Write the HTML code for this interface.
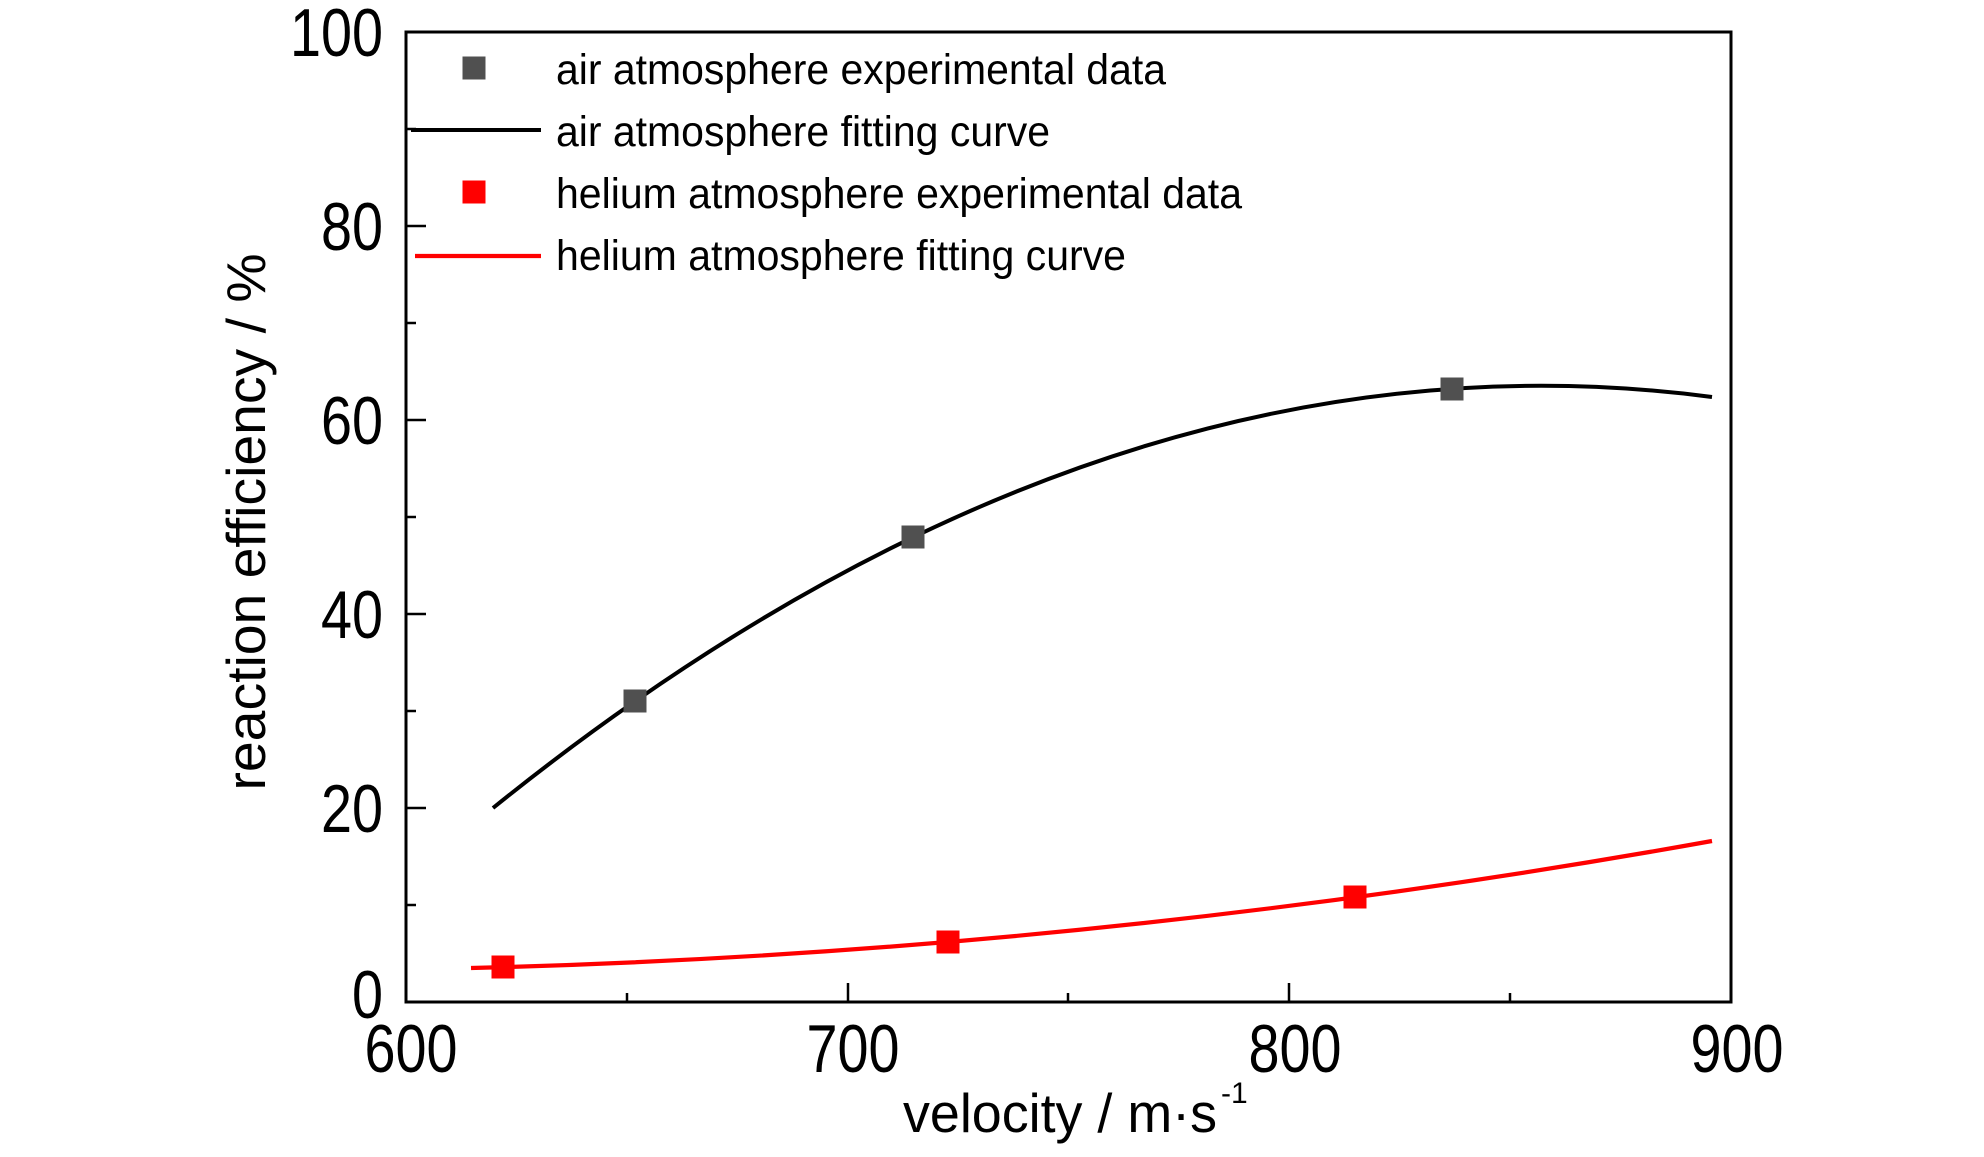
<!DOCTYPE html>
<html>
<head>
<meta charset="utf-8">
<style>
html,body{margin:0;padding:0;background:#ffffff;}
svg{display:block;}
text{font-family:"Liberation Sans", Arial, sans-serif; fill:#000;}
</style>
</head>
<body>
<svg width="1984" height="1157" viewBox="0 0 1984 1157" xmlns="http://www.w3.org/2000/svg">
  <rect x="0" y="0" width="1984" height="1157" fill="#ffffff"/>

  <!-- Axis frame -->
  <rect x="406" y="32" width="1325" height="970" fill="none" stroke="#000" stroke-width="3"/>

  <!-- Y ticks (inward) -->
  <g stroke="#000" stroke-width="2.5">
    <line x1="406" y1="1002" x2="426" y2="1002"/>
    <line x1="406" y1="905" x2="416" y2="905"/>
    <line x1="406" y1="808" x2="426" y2="808"/>
    <line x1="406" y1="711" x2="416" y2="711"/>
    <line x1="406" y1="614" x2="426" y2="614"/>
    <line x1="406" y1="517" x2="416" y2="517"/>
    <line x1="406" y1="420" x2="426" y2="420"/>
    <line x1="406" y1="323" x2="416" y2="323"/>
    <line x1="406" y1="226" x2="426" y2="226"/>
    <line x1="406" y1="129" x2="416" y2="129"/>
  </g>
  <!-- X ticks (inward) -->
  <g stroke="#000" stroke-width="2.5">
    <line x1="627" y1="1002" x2="627" y2="993"/>
    <line x1="848" y1="1002" x2="848" y2="983"/>
    <line x1="1068" y1="1002" x2="1068" y2="993"/>
    <line x1="1289" y1="1002" x2="1289" y2="983"/>
    <line x1="1510" y1="1002" x2="1510" y2="993"/>
  </g>

  <!-- Y tick labels -->
  <g font-size="68">
    <g transform="translate(383,56) scale(0.82,1)"><text text-anchor="end">100</text></g>
    <g transform="translate(383,250) scale(0.82,1)"><text text-anchor="end">80</text></g>
    <g transform="translate(383,444) scale(0.82,1)"><text text-anchor="end">60</text></g>
    <g transform="translate(383,638) scale(0.82,1)"><text text-anchor="end">40</text></g>
    <g transform="translate(383,832) scale(0.82,1)"><text text-anchor="end">20</text></g>
    <g transform="translate(383,1018) scale(0.82,1)"><text text-anchor="end">0</text></g>
  </g>

  <!-- X tick labels -->
  <g font-size="68">
    <g transform="translate(411,1072) scale(0.82,1)"><text text-anchor="middle">600</text></g>
    <g transform="translate(853,1072) scale(0.82,1)"><text text-anchor="middle">700</text></g>
    <g transform="translate(1295,1072) scale(0.82,1)"><text text-anchor="middle">800</text></g>
    <g transform="translate(1737,1072) scale(0.82,1)"><text text-anchor="middle">900</text></g>
  </g>

  <!-- Axis titles -->
  <text x="903" y="1132" font-size="55" textLength="314" lengthAdjust="spacingAndGlyphs">velocity / m·s</text>
  <text x="1221" y="1103" font-size="30">-1</text>

  <text transform="translate(265,522) rotate(-90)" text-anchor="middle" font-size="55" textLength="537" lengthAdjust="spacingAndGlyphs">reaction efficiency / %</text>

  <!-- Curves -->
  <path d="M493,808 Q1102,317 1712,397" fill="none" stroke="#000" stroke-width="4"/>
  <path d="M471,968 Q1091,952.7 1712,841" fill="none" stroke="#ff0000" stroke-width="4.2"/>

  <!-- Air markers -->
  <g fill="#505050">
    <rect x="623.5" y="689.5" width="23" height="23"/>
    <rect x="901.5" y="525.5" width="23" height="23"/>
    <rect x="1440.5" y="377.5" width="23" height="23"/>
  </g>
  <!-- Helium markers -->
  <g fill="#ff0000">
    <rect x="491.5" y="955.5" width="23" height="23"/>
    <rect x="936.5" y="930.5" width="23" height="23"/>
    <rect x="1343.5" y="885.5" width="23" height="23"/>
  </g>

  <!-- Legend -->
  <rect x="462.5" y="56.5" width="23" height="23" fill="#505050"/>
  <line x1="411" y1="130" x2="541" y2="130" stroke="#000" stroke-width="4"/>
  <rect x="462.5" y="180.5" width="23" height="23" fill="#ff0000"/>
  <line x1="415" y1="256" x2="541" y2="256" stroke="#ff0000" stroke-width="4.2"/>

  <g font-size="43">
    <text x="556" y="84" textLength="610" lengthAdjust="spacingAndGlyphs">air atmosphere experimental data</text>
    <text x="556" y="146" textLength="494" lengthAdjust="spacingAndGlyphs">air atmosphere fitting curve</text>
    <text x="556" y="208" textLength="686" lengthAdjust="spacingAndGlyphs">helium atmosphere experimental data</text>
    <text x="556" y="270" textLength="570" lengthAdjust="spacingAndGlyphs">helium atmosphere fitting curve</text>
  </g>
</svg>
</body>
</html>
